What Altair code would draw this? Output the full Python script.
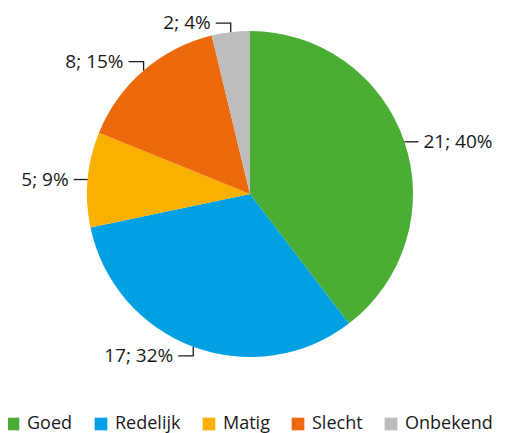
import altair as alt
import pandas as pd
import numpy as np

categories = ["Goed", "Redelijk", "Matig", "Slecht", "Onbekend"]
counts = [21, 17, 5, 8, 2]
percents = [40, 32, 9, 15, 4]
colors = ["#4aae35", "#00a0e3", "#f9b000", "#ec6a0c", "#bdbdbd"]

FONT = "Open Sans"
W, H = 484, 372
CX, CY = W / 2, H / 2
R = 163

df = pd.DataFrame({"cat": categories, "count": counts, "pct": percents,
                   "order": list(range(len(categories)))})
df["label"] = [f"{c}; {p}%" for c, p in zip(counts, percents)]

total = sum(counts)
mid = (np.cumsum(counts) - np.array(counts) / 2) / total * 2 * np.pi
s, c = np.sin(mid), np.cos(mid)
ex = CX + R * s
ey = CY - R * c

line_rows = []
tx, ty, side = [], [], []
for i, cat in enumerate(categories):
    d = 1 if s[i] >= 0 else -1
    if abs(s[i]) > 0.9:
        pts = [(ex[i], ey[i]), (ex[i] + d * 14, ey[i])]
    else:
        v = -1 if c[i] > 0 else 1
        pts = [(ex[i], ey[i]), (ex[i], ey[i] + v * 9), (ex[i] + d * 15, ey[i] + v * 9)]
    for k, (px, py) in enumerate(pts):
        line_rows.append({"cat": cat, "seq": k, "x": px, "y": py})
    lx, ly = pts[-1]
    tx.append(lx + d * 5)
    ty.append(ly)
    side.append("right" if d > 0 else "left")
df["tx"], df["ty"], df["side"] = tx, ty, side
lines = pd.DataFrame(line_rows)

xs = alt.Scale(domain=[0, W], nice=False, zero=False)
ys = alt.Scale(domain=[0, H], nice=False, zero=False, reverse=True)

pie = alt.Chart(df).mark_arc(outerRadius=R).encode(
    theta=alt.Theta("count:Q", stack=True),
    order=alt.Order("order:Q"),
    color=alt.Color("cat:N", sort=categories,
                    scale=alt.Scale(domain=categories, range=colors),
                    legend=alt.Legend(orient="none", legendX=-4, legendY=407,
                                      direction="horizontal", title=None,
                                      padding=0,
                                      symbolType="square", symbolSize=160,
                                      symbolStrokeWidth=0, symbolOpacity=1,
                                      labelFontSize=18, labelFont=FONT,
                                      labelColor="#1a1a1a", columnPadding=19,
                                      labelOffset=5)),
)

leader = alt.Chart(lines).mark_line(color="#1a1a1a", strokeWidth=1.3).encode(
    x=alt.X("x:Q", scale=xs, axis=None),
    y=alt.Y("y:Q", scale=ys, axis=None),
    detail="cat:N",
    order="seq:Q",
)

def text_layer(sd, align):
    return alt.Chart(df).transform_filter(alt.datum.side == sd).mark_text(
        align=align, baseline="middle", font=FONT, fontSize=19, color="#1a1a1a"
    ).encode(
        x=alt.X("tx:Q", scale=xs, axis=None),
        y=alt.Y("ty:Q", scale=ys, axis=None),
        text="label:N",
    )

chart = alt.layer(pie, leader, text_layer("right", "left"), text_layer("left", "right")).properties(
    width=W, height=H,
    padding={"left": 0, "top": 0, "right": 5, "bottom": 53},
    autosize=alt.AutoSizeParams(type="none"),
).configure_view(stroke=None)

chart.save("out.html", embed_options={"renderer": "svg", "actions": False})
